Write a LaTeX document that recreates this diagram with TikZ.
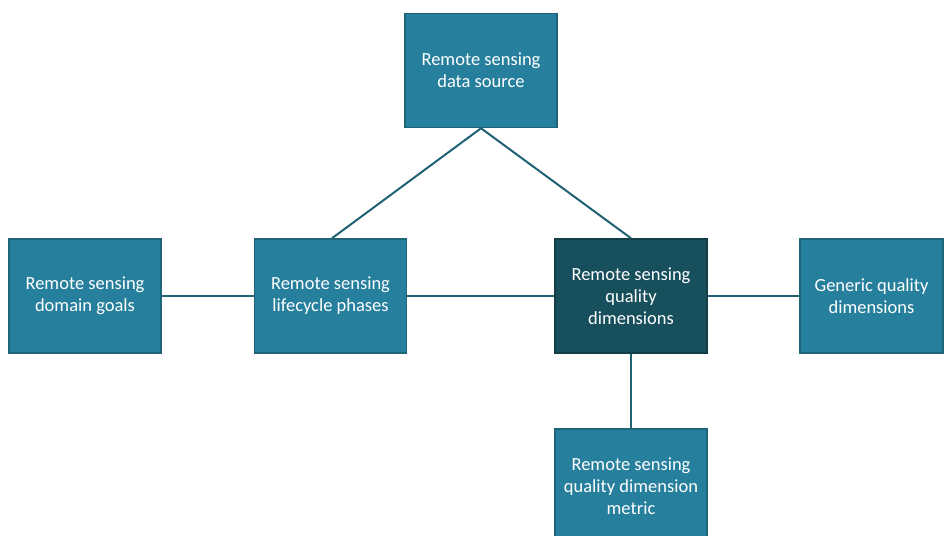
\documentclass[tikz,border=0pt]{standalone}
\usepackage{fontspec}
\setmainfont{Carlito}
\definecolor{boxfill}{HTML}{267F9C}
\definecolor{boxline}{HTML}{1D6479}
\definecolor{darkfill}{HTML}{184F5C}
\definecolor{darkline}{HTML}{123E48}
\definecolor{conn}{HTML}{1F6276}
\begin{document}
\begin{tikzpicture}[x=1pt,y=-1pt,
  box/.style={draw=boxline, line width=1.5pt, fill=boxfill, text=white,
    minimum width=152pt, minimum height=114pt, inner sep=2pt, align=center,
    font=\fontsize{18.5}{22}\selectfont},
  darkbox/.style={box, draw=darkline, fill=darkfill},
  link/.style={draw=conn, line width=2pt}]
\useasboundingbox (0,0) rectangle (944,535);
\clip (0,0) rectangle (944,535);
\fill[white] (0,0) rectangle (944,535);
\node[box] (src) at (481,70.5) {Remote sensing\\data source};
\node[box] (goals) at (85,296) {Remote sensing\\domain goals};
\node[box] (life) at (330.5,296) {Remote sensing\\lifecycle phases};
\node[darkbox] (qual) at (631,296) {Remote sensing\\quality\\dimensions};
\node[box, minimum width=143pt] (gen) at (871.5,296) {Generic quality\\dimensions};
\node[box, anchor=north] (met) at (631,428) {Remote sensing\\quality dimension\\metric};
\draw[link] (src.south) -- (life.north -| 332,0);
\draw[link] (src.south) -- (qual.north);
\draw[link] (goals.east) -- (life.west);
\draw[link] (life.east) -- (qual.west);
\draw[link] (qual.east) -- (gen.west);
\draw[link] (qual.south) -- (met.north);
\end{tikzpicture}
\end{document}
